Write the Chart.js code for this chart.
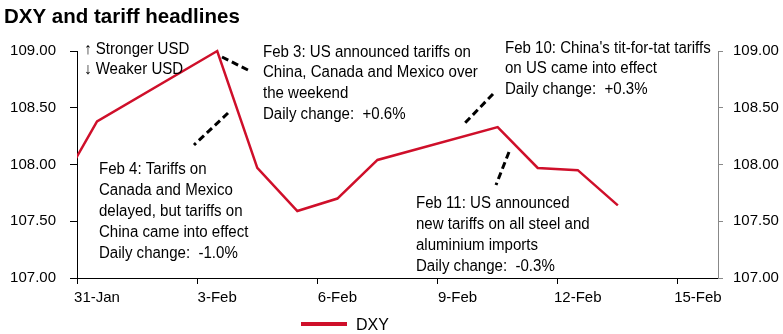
<!DOCTYPE html>
<html>
<head>
<meta charset="utf-8">
<script src="https://cdn.jsdelivr.net/npm/chart.js@4"></script>
<style>
html,body{margin:0;padding:0;background:#fff;}
#wrap{width:783px;height:334px;position:relative;}
</style>
</head>
<body>
<div id="wrap"><canvas id="c" width="783" height="334"></canvas></div>
<script>
// ---- data ----
const dates = ['30-Jan','31-Jan','3-Feb','4-Feb','5-Feb','6-Feb','7-Feb','10-Feb','11-Feb','12-Feb','13-Feb'];
const dayIndex = [-1, 0, 3, 4, 5, 6, 7, 10, 11, 12, 13]; // days after 31-Jan
const dxyValues = [107.76, 108.38, 109.00, 107.97, 107.59, 107.70, 108.04, 108.33, 107.97, 107.95, 107.64];
const xTickLabels = ['31-Jan','3-Feb','6-Feb','9-Feb','12-Feb','15-Feb'];
const xTickDays = [0, 3, 6, 9, 12, 15];
const yTicks = [107.0, 107.5, 108.0, 108.5, 109.0];
const seriesName = 'DXY';
const titleText = 'DXY and tariff headlines';
const directionNote = ['\u2191 Stronger USD', '\u2193 Weaker USD'];
const noteFeb3 = ['Feb 3: US announced tariffs on', 'China, Canada and Mexico over', 'the weekend', 'Daily change:  +0.6%'];
const noteFeb4 = ['Feb 4: Tariffs on', 'Canada and Mexico', 'delayed, but tariffs on', 'China came into effect', 'Daily change:  -1.0%'];
const noteFeb10 = ['Feb 10: China\'s tit-for-tat tariffs', 'on US came into effect', 'Daily change:  +0.3%'];
const noteFeb11 = ['Feb 11: US announced', 'new tariffs on all steel and', 'aluminium imports', 'Daily change:  -0.3%'];

const FONT = '"Liberation Sans", Arial, sans-serif';
const RED = '#cf0f2a';
const SQ = 0.94; // horizontal text squeeze for notes

const points = dayIndex.map((d, i) => ({x: d, y: dxyValues[i]}));

const annot = {
  id: 'annot',
  afterDraw(chart) {
    const ctx = chart.ctx;
    ctx.save();
    // title
    ctx.fillStyle = '#000';
    ctx.font = 'bold 20.5px ' + FONT;
    ctx.textBaseline = 'alphabetic';
    ctx.textAlign = 'left';
    ctx.fillText(titleText, 4, 23);
    // text blocks (slightly condensed)
    ctx.font = '16px ' + FONT;
    const block = (lines, x, y0, lh) => lines.forEach((t, i) => {
      ctx.save();
      ctx.translate(x, y0 + i * lh);
      ctx.scale(SQ, 1);
      ctx.fillText(t, 0, 0);
      ctx.restore();
    });
    block(directionNote, 84, 53.5, 20.8);
    block(noteFeb3, 263, 56.5, 20.8);
    block(noteFeb10, 505, 52.7, 20.6);
    block(noteFeb4, 99, 173.5, 21);
    block(noteFeb11, 416, 207.7, 21);
    // dashed connectors
    ctx.strokeStyle = '#000';
    ctx.lineWidth = 3;
    ctx.setLineDash([7, 4]);
    const seg = (x1, y1, x2, y2) => { ctx.beginPath(); ctx.moveTo(x1, y1); ctx.lineTo(x2, y2); ctx.stroke(); };
    seg(222, 57, 250, 71);
    seg(228, 113, 194, 145);
    seg(493, 94, 465, 123);
    seg(509, 152, 496, 185);
    ctx.setLineDash([]);
    // legend
    const ds = chart.data.datasets[0];
    ctx.strokeStyle = ds.borderColor;
    ctx.lineWidth = 4;
    seg(301, 324, 347, 324);
    ctx.fillStyle = '#000';
    ctx.font = '16px ' + FONT;
    ctx.fillText(ds.label, 356, 330);
    ctx.restore();
  }
};

new Chart(document.getElementById('c'), {
  type: 'line',
  data: {
    datasets: [{
      label: seriesName,
      data: points,
      borderColor: RED,
      backgroundColor: RED,
      borderWidth: 2.5,
      pointRadius: 0,
      tension: 0,
      clip: {left: 0, right: 0, top: 6, bottom: 6},
      yAxisID: 'y'
    }]
  },
  options: {
    responsive: false,
    animation: false,
    events: [],
    layout: {padding: {top: 51, bottom: 24, left: 0, right: 0}},
    plugins: {legend: {display: false}, tooltip: {enabled: false}, title: {display: false}},
    scales: {
      x: {
        type: 'linear',
        min: -0.5,
        max: 15.5,
        afterBuildTicks(scale) { scale.ticks = xTickDays.map(d => ({value: d - 0.5})); },
        afterFit(scale) { scale.height = 32; },
        grid: {display: true, drawOnChartArea: false, drawTicks: true, tickLength: 6, color: '#000'},
        border: {display: true, color: '#000', width: 1},
        ticks: {
          color: '#000',
          font: {family: FONT, size: 15},
          padding: 5,
          labelOffset: 20,
          maxRotation: 0,
          autoSkip: false,
          callback(v) { const i = xTickDays.indexOf(Math.round(v + 0.5)); return i >= 0 ? xTickLabels[i] : ''; }
        }
      },
      y: {
        position: 'left',
        min: 107,
        max: 109,
        afterBuildTicks(scale) { scale.ticks = yTicks.map(v => ({value: v})); },
        afterFit(scale) { scale.width = 77; },
        grid: {display: true, drawOnChartArea: false, drawTicks: true, tickLength: 7, color: '#000'},
        border: {display: true, color: '#000', width: 1},
        ticks: {color: '#000', font: {family: FONT, size: 15}, padding: 14, callback: v => v.toFixed(2)}
      },
      y2: {
        position: 'right',
        min: 107,
        max: 109,
        afterBuildTicks(scale) { scale.ticks = yTicks.map(v => ({value: v})); },
        afterFit(scale) { scale.width = 65; },
        grid: {display: true, drawOnChartArea: false, drawTicks: true, tickLength: 5, color: '#888'},
        border: {display: true, color: '#888', width: 1},
        ticks: {color: '#000', font: {family: FONT, size: 15}, padding: 10, callback: v => v.toFixed(2)}
      }
    }
  },
  plugins: [annot]
});
</script>
</body>
</html>
